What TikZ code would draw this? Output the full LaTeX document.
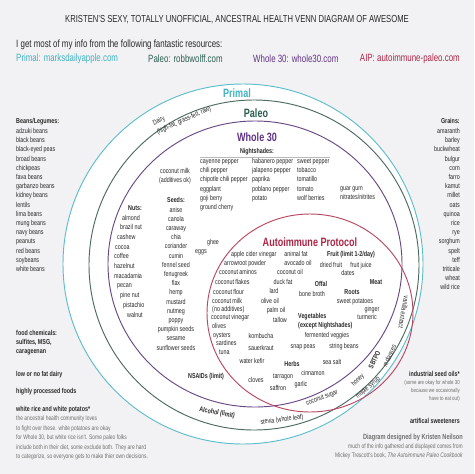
\documentclass[tikz,border=0pt]{standalone}
\usepackage{fontspec}
\setmainfont{Liberation Sans}[FakeStretch=0.75]
\usetikzlibrary{positioning}
\definecolor{cprimal}{RGB}{64,178,192}
\definecolor{cpaleo}{RGB}{42,94,80}
\definecolor{cwhole}{RGB}{96,50,132}
\definecolor{caip}{RGB}{172,38,70}
\definecolor{cink}{RGB}{40,40,40}
\definecolor{cnote}{RGB}{110,110,110}
\definecolor{cpage}{RGB}{242,242,244}
\newcommand{\itemfont}{\fontsize{6.1}{7.85}\selectfont}
\newcommand{\notefont}{\fontsize{5.6}{8.1}\selectfont}
\newcommand{\srcfont}{\fontsize{9}{11}\selectfont}
\newcommand{\setfont}{\fontsize{10.3}{12}\selectfont\bfseries}
\tikzset{
  txt/.style={font=\itemfont,text=cink,inner sep=0pt},
  item/.style={txt,text height=4.4pt,text depth=1.3pt},
  head/.style={item,font=\itemfont\bfseries},
  block/.style={txt,align=left},
  note/.style={font=\notefont,text=cnote,inner sep=0pt,align=left},
  src/.style={font=\srcfont,inner sep=0pt,anchor=west},
  setlab/.style={font=\setfont,inner sep=0pt},
  ring/.style={line width=0.8pt}
}

\begin{document}
\begin{tikzpicture}[x=0.03cm,y=-0.03cm]
  \useasboundingbox[fill=cpage] (0,0) rectangle (474,474);
  % header
  \node[inner sep=0pt,font=\fontsize{8.7}{10}\selectfont,text=cink] (title) at (237,20)
    {KRISTEN’S SEXY, TOTALLY UNOFFICIAL, ANCESTRAL HEALTH VENN DIAGRAM OF AWESOME};
  \node[src,text=cink] (intro) at (16,45) {I get most of my info from the following fantastic resources:};
  \node[src,text=cprimal] (srcprimal) at (16,59) {Primal: marksdailyapple.com};
  \node[src,text=cpaleo] (srcpaleo) at (148,59) {Paleo: robbwolff.com};
  \node[src,text=cwhole] (srcwhole) at (253,59) {Whole 30: whole30.com};
  \node[src,text=caip,anchor=east] (srcaip) at (460,59) {AIP: autoimmune-paleo.com};

  % the four sets
  \fill[white] (243,264) circle[radius=180];
  \draw[ring,cprimal!85] (243,264) circle[radius=180];
  \draw[ring,gray!40!cpaleo] (254,265) circle[radius=165];
  \draw[ring,cwhole!70!gray] (255,264) ellipse[x radius=147,y radius=143];
  \draw[ring,caip!85] (310,313) ellipse[x radius=103,y radius=99];

  \node[setlab,text=cprimal] (primal) at (237,93) {Primal};
  \node[setlab,text=cpaleo] (paleo) at (256,113) {Paleo};
  \node[setlab,text=cwhole] (whole) at (257,137) {Whole 30};
  \node[setlab,text=caip] (aip) at (310,242) {Autoimmune Protocol};

  \node[block,rotate=24,font=\fontsize{6.1}{8.4}\selectfont] (dairy) at (182,116) {Dairy\\(high-fat, grass-fed, raw)};

  % left column
  \node[head,anchor=west] (beanshead) at (16,122) {Beans/Legumes:};
  \foreach \t [count=\i] in {adzuki beans,black beans,black-eyed peas,broad beans,
      chickpeas,fava beans,garbanzo beans,kidney beans,lentils,lima beans,mung beans,
      navy beans,peanuts,red beans,soybeans,white beans}
    \node[item,anchor=west] (bean\i) at (16,{122.5+9.2*\i}) {\t};
  \node[block,anchor=west,font=\itemfont\bfseries] (chem) at (16,342.5) {food chemicals:\\sulfites, MSG,\\carageenan};
  \node[head,anchor=west] (lowfat) at (16,375) {low or no fat dairy};
  \node[head,anchor=west] (processed) at (16,392) {highly processed foods};
  \node[head,anchor=west] (rice) at (16,410) {white rice and white potatos*};
  \node[note,anchor=west] (ricenote) at (16,438) {the ancestral health community loves\\
    to fight over these. white potatoes are okay\\
    for Whole 30, but white rice isn't. Some paleo folks\\
    include both in their diet, some exclude both. They are hard\\
    to categorize, so everyone gets to make thier own decisions.};

  % right column
  \node[head,anchor=east] (grainshead) at (460,122) {Grains:};
  \foreach \t [count=\i] in {amaranth,barley,buckwheat,bulgur,corn,farro,kamut,millet,
      oats,quinoa,rice,rye,sorghum,spelt,teff,triticale,wheat,wild rice}
    \node[item,anchor=east] (grain\i) at (460,{122.5+9.2*\i}) {\t};
  \node[head,anchor=east] (seedoils) at (460,375) {industrial seed oils*};
  \node[note,align=right,anchor=east,font=\fontsize{5}{6.7}\selectfont] (oilnote) at (460,391)
    {(some are okay for whole 30\\because we occasionally\\have to eat out)};
  \node[head,anchor=east] (artificial) at (460,422) {artifical sweeteners};
  \node[inner sep=0pt,anchor=east,text=cnote,font=\fontsize{6.4}{8}\selectfont\bfseries] (credit) at (463,438)
    {Diagram designed by Kristen Neilson};
  \node[note,align=right,anchor=east] (creditnote) at (463,451.5)
    {much of the info gathered and displayed comes from\\Mickey Trescott's book, \textit{The Autoimmune Paleo Cookbook}};

  % Whole 30
  \node[head] (nighthead) at (257,152) {Nightshades:};
  \draw[gray!55,line width=0.6pt] (200,157) -- (330,157);
  \foreach \t [count=\i from 0] in {cayenne pepper,chili pepper,chipotle chili pepper,eggplant,goji berry,ground cherry}
    \node[item,anchor=west] (nsa\i) at (200,{161.7+9.2*\i}) {\t};
  \foreach \t [count=\i from 0] in {habanero pepper,jalapeno pepper,paprika,poblano pepper,potato}
    \node[item,anchor=west] (nsb\i) at (252,{161.7+9.2*\i}) {\t};
  \foreach \t [count=\i from 0] in {sweet pepper,tobacco,tomatillo,tomato,wolf berries}
    \node[item,anchor=west] (nsc\i) at (297,{161.7+9.2*\i}) {\t};
  \node[block,align=center] (milkok) at (175,176) {coconut milk\\(additives ok)};
  \node[item,anchor=west] (guar) at (340,189) {guar gum};
  \node[item,anchor=west] (nitrates) at (340,198) {nitrates/nitrites};
  \node[head] (seedshead) at (176,201) {Seeds:};
  \foreach \t [count=\i] in {anise,canola,caraway,chia,coriander,cumin,fennel seed,fenugreek,
      flax,hemp,mustard,nutmeg,poppy,pumpkin seeds,sesame,sunflower seeds}
    \node[item] (seed\i) at (176,{201+9.2*\i}) {\t};
  \node[head] (nutshead) at (135,209) {Nuts:};
  \foreach \t/\x [count=\i] in {almond/122,brazil nut/120,cashew/117,cocoa/115,coffee/114,
      hazelnut/114,macadamia/114,pecan/117,pine nut/120,pistachio/123,walnut/127}
    \node[item,anchor=west] (nut\i) at (\x,{208.5+9.7*\i}) {\t};
  \node[item] (ghee) at (213,243) {ghee};
  \node[item] (eggs) at (201,252) {eggs};
  \node[head] (nsaids) at (206,377) {NSAIDs (limit)};

  % Autoimmune Protocol
  \foreach \t/\x/\y [count=\i] in {apple cider vinegar/231/255,arrowroot powder/224/264,
      coconut aminos/219/273,coconut flakes/215/283,coconut flour/213/293,
      coconut vinegar/211/318,olives/212/327,oysters/213/336,sardines/216/344,tuna/219/353}
    \node[item,anchor=west] (aipa\i) at (\x,\y) {\t};
  \node[block,anchor=west,font=\fontsize{6.1}{6.9}\selectfont] (milknone) at (212,306) {coconut milk\\(no additives)};
  \foreach \t/\x/\y [count=\i] in {animal fat/296/255,avocado oil/298/264,coconut oil/290/273,
      duck fat/283/283,lard/274/292,olive oil/270/302,palm oil/276/311,tallow/280/321,
      kombucha/261/337,sauerkraut/261/349,water kefir/252/362,cloves/256/381,
      dried fruit/331/266,fruit juice/361/266,dates/348/274,bone broth/312/295,
      sweet potatoes/355/302,ginger/372/310,turmeric/367/318,fermented veggies/327/336,
      snap peas/303/347,string beans/344/347,sea salt/332/363,cinnamon/313/374,
      tarragon/283/377,garlic/301/385,saffron/278/389}
    \node[item] (aipb\i) at (\x,\y) {\t};
  \node[head] (fruit) at (351,255) {Fruit (limit 1-2/day)};
  \node[head] (offal) at (321,285) {Offal};
  \node[head] (meat) at (376,283) {Meat};
  \node[head] (roots) at (352,293) {Roots};
  \node[block,anchor=west,font=\itemfont\bfseries] (veg) at (298,321.5) {Vegetables\\(except Nightshades)};
  \node[head] (herbs) at (292,365) {Herbs};

  % sweeteners outside Whole 30
  \node[item,rotate=-100] (vanilla) at (403,312) {vanilla extract};
  \node[head,rotate=65] (sbtpo) at (375,360) {SBTPO};
  \node[item,rotate=65] (molasses) at (390,356) {molasses};
  \node[item,rotate=45] (honey) at (358,380) {honey};
  \node[item,rotate=40] (maple) at (368,388) {maple syrup};
  \node[item,rotate=22] (cocosugar) at (322,398) {coconut sugar};

  % Paleo only
  \node[head,rotate=-10] (alcohol) at (217,413) {Alcohol (limit)};
  \node[item,rotate=7] (stevia) at (282,420) {stevia (whole leaf)};
\end{tikzpicture}
\end{document}
